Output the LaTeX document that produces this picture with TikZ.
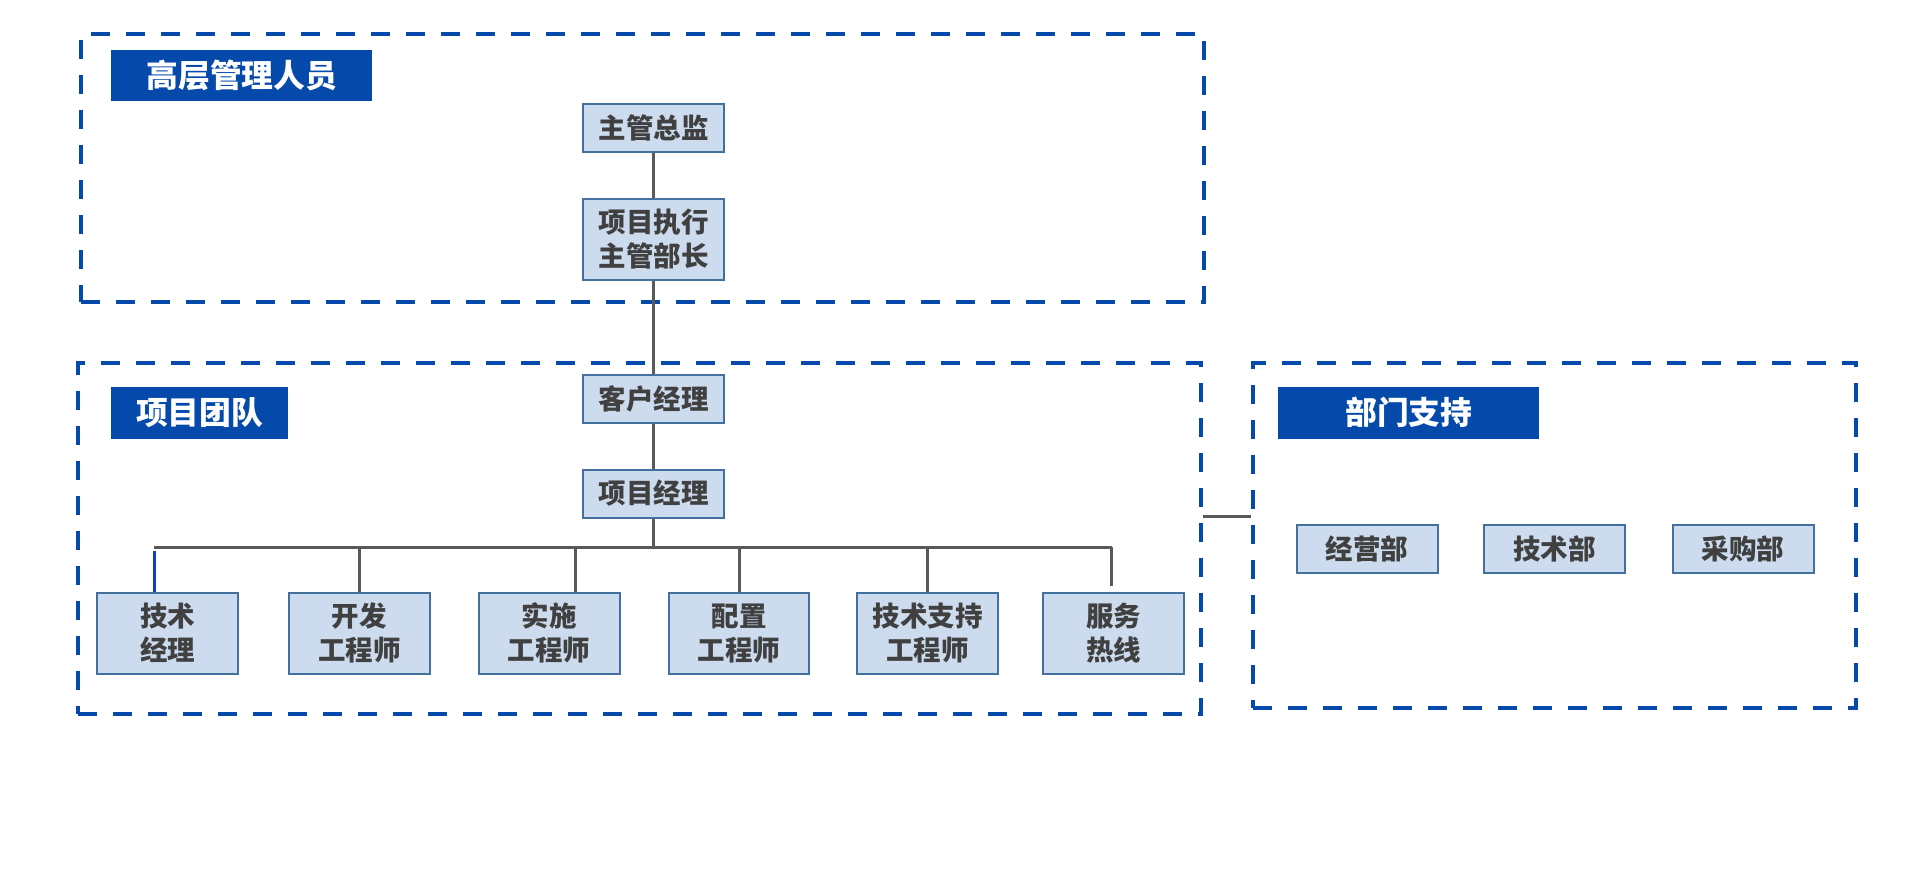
\documentclass[tikz,border=0pt]{standalone}
\usepackage{fontspec}
\newfontfamily\cjk{Noto Sans CJK SC}
\usetikzlibrary{calc}
\definecolor{dblue}{HTML}{054AAB}
\definecolor{nfill}{HTML}{CCDBEE}
\definecolor{nline}{HTML}{41719C}
\definecolor{ntext}{HTML}{404040}
\definecolor{lgray}{HTML}{595959}
\begin{document}
\begin{tikzpicture}[x=0.5pt,y=-0.5pt,
 groupbox/.style={draw=dblue, line width=2pt, dash pattern=on 9.5pt off 8pt, inner sep=0pt},
 titlebox/.style={fill=dblue, text=white, font=\cjk\bfseries\fontsize{15.9}{19}\selectfont, inner sep=0pt, minimum height=25.8pt},
 rolebox/.style={draw=nline, fill=nfill, line width=1pt, text=ntext, font=\cjk\bfseries\fontsize{13.75}{17}\selectfont, align=center, inner sep=0pt, minimum width=70.4pt},
 onebox/.style={rolebox, minimum height=24pt},
 twobox/.style={rolebox, minimum height=40.5pt},
 link/.style={draw=lgray, line width=1.5pt},
 bluelink/.style={draw=dblue, line width=1.5pt}]
\useasboundingbox (0,0) rectangle (1920,880);
% group boxes
\node[groupbox, minimum width=561.5pt, minimum height=134pt] (g1) at (642.3,168.4) {};
\node[groupbox, minimum width=561.4pt, minimum height=175.7pt] (g2) at (639.8,538.2) {};
\node[groupbox, minimum width=301.9pt, minimum height=172.7pt] (g3) at (1554.5,535.2) {};
% titles
\node[titlebox, minimum width=130.4pt] (t1) at (241.8,75.3) {高层管理人员};
\node[titlebox, minimum width=88.2pt] (t2) at (199.6,412.7) {项目团队};
\node[titlebox, minimum width=130.4pt] (t3) at (1408.8,412.7) {部门支持};
% management
\node[onebox] (a) at (653.5,127.9) {主管总监};
\node[twobox] (b) at (653.5,239.4) {项目执行\\主管部长};
% project team
\node[onebox] (c) at (653.5,398.6) {客户经理};
\node[onebox] (d) at (653.5,493.5) {项目经理};
\node[twobox] (e1) at (167.8,633.1) {技术\\经理};
\node[twobox] (e2) at (359.4,633.1) {开发\\工程师};
\node[twobox] (e3) at (549.2,633.1) {实施\\工程师};
\node[twobox] (e4) at (739.0,633.1) {配置\\工程师};
\node[twobox] (e5) at (927.5,633.1) {技术支持\\工程师};
\node[twobox] (e6) at (1113.5,633.1) {服务\\热线};
% departments
\node[onebox] (f1) at (1367.2,549.2) {经营部};
\node[onebox] (f2) at (1554.5,549.2) {技术部};
\node[onebox] (f3) at (1743.1,549.2) {采购部};
% connectors
\coordinate (busL) at (154.3,547.4);
\coordinate (busR) at (1111.9,547.4);
\coordinate (linkY) at (0,516.7);
\draw[link] (a.south) -- (b.north);
\draw[link] (b.south) -- (c.north);
\draw[link] (c.south) -- (d.north);
\draw[link] (d.south) -- (d.south |- busL);
\draw[link] (busL) -- (busR);
\draw[bluelink] ([yshift=-2pt]busL) -- ([xshift=-6.75pt]e1.north);
\draw[link] (e2.north |- busL) -- (e2.north);
\draw[link] ([xshift=13.15pt]e3.north |- busL) -- ([xshift=13.15pt]e3.north);
\draw[link] (e4.north |- busL) -- (e4.north);
\draw[link] (e5.north |- busL) -- (e5.north);
\draw[link] (busR) -- ([xshift=-0.8pt,yshift=3pt]e6.north);
\draw[link] (g2.east |- linkY) -- (g3.west |- linkY);
\end{tikzpicture}
\end{document}
